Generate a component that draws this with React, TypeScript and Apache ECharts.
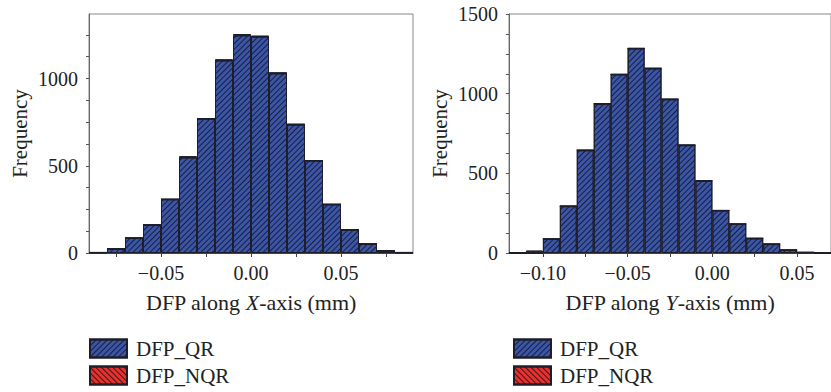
import React, { useEffect, useRef } from "react";
import * as echarts from "echarts";

// ---- data ----
const leftBins = [
  "-0.085", "-0.075", "-0.065", "-0.055", "-0.045", "-0.035", "-0.025", "-0.015", "-0.005",
  "0.005", "0.015", "0.025", "0.035", "0.045", "0.055", "0.065", "0.075", "0.085",
];
const leftQR = [3, 24, 86, 161, 308, 548, 770, 1104, 1248, 1240, 1030, 736, 530, 279, 134, 52, 12, 3];
const leftNQR = [0, 0, 0, 0, 0, 5, 0, 4, 6, 4, 3, 3, 0, 0, 0, 0, 0, 0];

const rightBins = [
  "-0.115", "-0.105", "-0.095", "-0.085", "-0.075", "-0.065", "-0.055", "-0.045", "-0.035", "-0.025",
  "-0.015", "-0.005", "0.005", "0.015", "0.025", "0.035", "0.045", "0.055", "0.065",
];
const rightQR = [0, 0, 88, 294, 645, 937, 1121, 1284, 1159, 965, 677, 453, 267, 182, 92, 56, 19, 4, 0];
const rightNQR = [4, 15, 0, 0, 0, 0, 0, 0, 0, 0, 0, 0, 0, 0, 0, 0, 0, 0, 0];

const leftXRange = [-0.09, 0.09];
const rightXRange = [-0.12, 0.07];
const leftXTicks = [-0.075, -0.05, -0.025, 0, 0.025, 0.05, 0.075];
const leftXLabels = [-0.05, 0, 0.05];
const rightXTicks = [-0.1, -0.075, -0.05, -0.025, 0, 0.025, 0.05];
const rightXLabels = [-0.1, -0.05, 0, 0.05];
const leftYMax = 1370;
const rightYMax = 1500;
const leftYTicks = [0, 125, 250, 375, 500, 625, 750, 875, 1000, 1125, 1250];
const leftYLabels = [0, 500, 1000];
const rightYTicks = [0, 125, 250, 375, 500, 625, 750, 875, 1000, 1125, 1250, 1375, 1500];
const rightYLabels = [0, 500, 1000, 1500];
const seriesNames = ["DFP_QR", "DFP_NQR"];

const FONT = "'Liberation Serif', 'DejaVu Serif', serif";
const BLUE = "#3b56a6";
const RED = "#e8312b";
const EDGE = "#1e1e2a";

const fmtX = (v: number) => (v < 0 ? "\u2212" : "") + Math.abs(v).toFixed(2);

const decalQR = {
  symbol: "rect",
  symbolSize: 1,
  color: "rgba(15,15,35,0.8)",
  dashArrayX: [1, 0],
  dashArrayY: [1, 2.6],
  rotation: -Math.PI / 4,
};
const decalNQR = { ...decalQR, rotation: Math.PI / 4 };

function makeValueX(gridIndex: number, range: number[], ticks: number[], labels: number[], axisLetter: string) {
  return {
    type: "value",
    gridIndex,
    min: range[0],
    max: range[1],
    position: "bottom",
    name: `{n|DFP along }{i|${axisLetter}}{n|-axis (mm)}`,
    nameLocation: "middle",
    nameGap: 38,
    nameTextStyle: {
      rich: {
        n: { fontFamily: FONT, fontSize: 22, color: "#222" },
        i: { fontFamily: FONT, fontSize: 22, color: "#222", fontStyle: "italic" },
      },
    },
    axisLine: { show: true, onZero: false, lineStyle: { color: "#444", width: 1 } },
    axisTick: { show: true, length: 4, inside: false, customValues: ticks, lineStyle: { color: "#444" } },
    axisLabel: {
      customValues: labels,
      formatter: fmtX,
      fontFamily: FONT,
      fontSize: 20,
      color: "#222",
      margin: 10,
    },
    splitLine: { show: false },
  };
}

function makeY(gridIndex: number, max: number, ticks: number[], labels: number[]) {
  return {
    type: "value",
    gridIndex,
    min: 0,
    max,
    name: "Frequency",
    nameLocation: "middle",
    nameGap: 59,
    nameTextStyle: { fontFamily: FONT, fontSize: 21, color: "#222" },
    axisLine: { show: true, onZero: false, lineStyle: { color: "#666", width: 1 } },
    axisTick: { show: true, length: 3, customValues: ticks, lineStyle: { color: "#555" } },
    axisLabel: {
      customValues: labels,
      formatter: (v: number) => String(v),
      fontFamily: FONT,
      fontSize: 20,
      color: "#222",
      margin: 11,
    },
    splitLine: { show: false },
  };
}

function barSeries(name: string, xAxisIndex: number, yAxisIndex: number, data: number[], color: string, decal: any, stack: string) {
  return {
    type: "bar",
    name,
    xAxisIndex,
    yAxisIndex,
    stack,
    data,
    barCategoryGap: "0%",
    barGap: "0%",
    itemStyle: { color, borderColor: EDGE, borderWidth: 1, decal },
    emphasis: { disabled: true },
  };
}

function legendItem(name: string, left: number, top: number) {
  return {
    left,
    top,
    itemWidth: 37,
    itemHeight: 18,
    icon: "rect",
    padding: 0,
    data: [name],
    textStyle: { fontFamily: FONT, fontSize: 21, color: "#222", padding: [0, 0, 0, 4] },
    selectedMode: false,
  };
}

export default function App() {
  const ref = useRef<HTMLDivElement>(null);
  useEffect(() => {
    if (!ref.current) return;
    const chart = echarts.init(ref.current, undefined, { renderer: "svg" });
    chart.setOption({
      animation: false,
      backgroundColor: "#fff",
      grid: [
        { left: 89, top: 14, width: 324, height: 239, show: true, borderColor: "#888", borderWidth: 1, containLabel: false },
        { left: 509, top: 14, width: 325, height: 239, show: true, borderColor: "#888", borderWidth: 1, containLabel: false },
      ],
      legend: [
        legendItem(seriesNames[0], 89, 338),
        legendItem(seriesNames[1], 89, 365),
        legendItem(seriesNames[0], 513, 338),
        legendItem(seriesNames[1], 513, 365),
      ],
      xAxis: [
        makeValueX(0, leftXRange, leftXTicks, leftXLabels, "X"),
        makeValueX(1, rightXRange, rightXTicks, rightXLabels, "Y"),
        { type: "category", gridIndex: 0, data: leftBins, show: false, boundaryGap: true },
        { type: "category", gridIndex: 1, data: rightBins, show: false, boundaryGap: true },
      ],
      yAxis: [
        makeY(0, leftYMax, leftYTicks, leftYLabels),
        makeY(1, rightYMax, rightYTicks, rightYLabels),
      ],
      series: [
        barSeries(seriesNames[0], 2, 0, leftQR, BLUE, decalQR, "l"),
        barSeries(seriesNames[1], 2, 0, leftNQR, RED, decalNQR, "l"),
        barSeries(seriesNames[0], 3, 1, rightQR, BLUE, decalQR, "r"),
        barSeries(seriesNames[1], 3, 1, rightNQR, RED, decalNQR, "r"),
      ],
    });
    return () => chart.dispose();
  }, []);
  return (
    <div
      ref={ref}
      style={{ position: "fixed", left: 0, top: 0, width: 831, height: 392, background: "#fff" }}
    />
  );
}
